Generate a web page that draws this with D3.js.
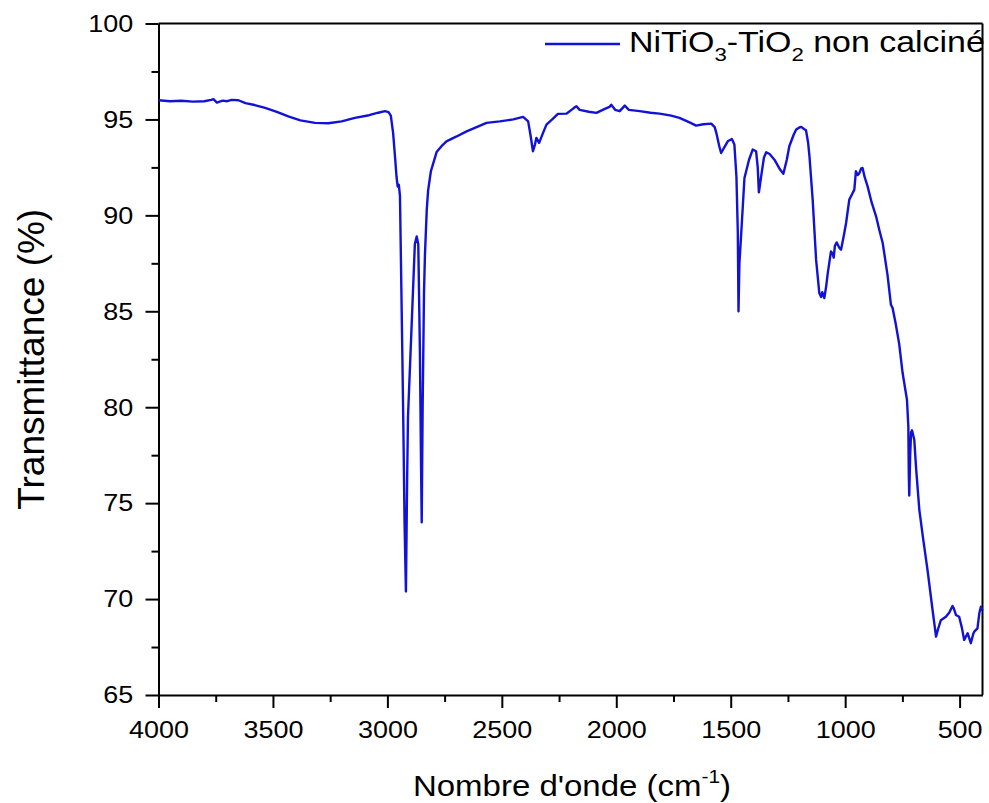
<!DOCTYPE html>
<html>
<head>
<meta charset="utf-8">
<script src="https://cdn.jsdelivr.net/npm/d3@7"></script>
<style>
  html, body { margin: 0; padding: 0; background: #fff; }
  svg { display: block; font-family: "Liberation Sans", Arial, sans-serif; }
</style>
</head>
<body>
<svg id="chart" width="989" height="803"></svg>
<script>
// FTIR spectrum
const wavenumbers = [
  4000, 3950, 3900, 3850, 3800, 3770, 3760, 3745, 3720, 3700, 3680, 3651, 3620, 3580, 3534,
  3480, 3433, 3380, 3316, 3258, 3200, 3142, 3080, 3040, 3011, 2995, 2985, 2975, 2967, 2960,
  2955, 2950, 2945, 2935, 2931, 2925, 2919, 2914, 2910, 2895, 2880, 2872, 2865, 2858, 2853,
  2850, 2846, 2840, 2836, 2828, 2822, 2810, 2800, 2785, 2760, 2742, 2700, 2654, 2600, 2567,
  2509, 2450, 2407, 2385, 2375, 2364, 2355, 2349, 2337, 2320, 2305, 2280, 2255, 2218, 2190,
  2180, 2174, 2160, 2120, 2087, 2050, 2030, 2022, 2005, 1985, 1963, 1945, 1898, 1850, 1811,
  1760, 1724, 1680, 1651, 1620, 1585, 1570, 1563, 1550, 1542, 1530, 1513, 1495, 1484, 1475,
  1469, 1466, 1462, 1454, 1440, 1420, 1404, 1389, 1382, 1377, 1372, 1367, 1355, 1345, 1330,
  1309, 1285, 1270, 1255, 1244, 1225, 1214, 1200, 1192, 1180, 1171, 1162, 1156, 1142, 1127,
  1113, 1105, 1100, 1091, 1083, 1076, 1062, 1055, 1050, 1045, 1037, 1025, 1018, 1005, 996,
  982, 970, 960, 953, 945, 938, 930, 924, 915, 902, 885, 865, 850, 836, 815,
  800, 793, 780, 764, 749, 730, 724, 722, 720, 716, 712, 708, 698, 690, 676,
  660, 640, 620, 603, 595, 582, 560, 545, 531, 525, 516, 502, 490, 480, 465,
  451, 440, 436, 422, 414, 407, 400
];
const transmittance = [
  96.0, 95.95, 95.97, 95.93, 95.95, 96.02, 96.06, 95.88, 95.98, 95.95, 96.02, 96.0, 95.85, 95.75, 95.6,
  95.38, 95.16, 94.95, 94.82, 94.8, 94.9, 95.08, 95.22, 95.35, 95.43, 95.38, 95.2, 94.3, 93.1, 92.0,
  91.5, 91.6, 91.0, 83.0, 79.7, 74.0, 70.4, 76.0, 79.5, 84.0, 88.5, 88.9, 88.5, 83.0, 77.0,
  74.0, 80.0, 86.0, 87.9, 90.3, 91.3, 92.3, 92.7, 93.3, 93.65, 93.86, 94.1, 94.38, 94.65, 94.82,
  94.9, 95.0, 95.13, 94.9, 94.2, 93.34, 93.7, 94.04, 93.78, 94.3, 94.73, 95.0, 95.29, 95.3, 95.55,
  95.65, 95.69, 95.5, 95.4, 95.34, 95.55, 95.65, 95.77, 95.5, 95.43, 95.72, 95.5, 95.43, 95.35, 95.3,
  95.2, 95.08, 94.85, 94.68, 94.75, 94.78, 94.6, 94.3, 93.6, 93.25, 93.5, 93.86, 93.98, 93.69, 92.0,
  89.08, 85.0, 87.5, 89.08, 91.95, 92.9, 93.43, 93.34, 92.5, 91.2, 91.6, 92.03, 93.0, 93.29, 93.2,
  92.9, 92.4, 92.17, 92.9, 93.6, 94.2, 94.47, 94.58, 94.61, 94.5, 94.43, 93.8, 93.08, 90.82, 87.69,
  85.95, 85.75, 86.0, 85.69, 86.3, 86.99, 88.12, 88.0, 87.8, 88.4, 88.59, 88.3, 88.21, 89.0, 89.6,
  90.82, 91.1, 91.34, 92.3, 92.1, 92.2, 92.45, 92.47, 92.0, 91.51, 90.7, 89.95, 89.2, 88.56, 86.9,
  85.34, 85.18, 84.4, 83.3, 81.78, 80.39, 79.0, 76.5, 75.4, 77.5, 78.7, 78.8, 78.3, 76.8, 74.65,
  73.2, 71.5, 69.6, 68.04, 68.4, 68.9, 69.08, 69.3, 69.64, 69.5, 69.17, 69.08, 68.5, 67.87, 68.22,
  67.7, 68.2, 68.3, 68.47, 69.26, 69.6, 69.4
];

const xTicks = [4000, 3500, 3000, 2500, 2000, 1500, 1000, 500];
const xMinorTicks = [3750, 3250, 2750, 2250, 1750, 1250, 750];
const yTicks = [65, 70, 75, 80, 85, 90, 95, 100];
const yMinorTicks = [67.5, 72.5, 77.5, 82.5, 87.5, 92.5, 97.5];

const seriesName = 'non calciné';
const lineColor = '#1212d6';
const stretch = 1.1; // glyphs in the reference are a bit wider than tall

const margin = {left: 158.5, right: 6.5, top: 23.5, bottom: 108};
const W = 989, H = 803;
const width = W - margin.left - margin.right;
const height = H - margin.top - margin.bottom;

const svg = d3.select('#chart');
const g = svg.append('g')
  .attr('transform', `translate(${margin.left},${margin.top})`);

const x = d3.scaleLinear().domain([4000, 400]).range([0, width]);
const y = d3.scaleLinear().domain([65, 100]).range([height, 0]);

// minor ticks first, major axis on top
g.append('g')
  .attr('transform', `translate(0,${height})`)
  .call(d3.axisBottom(x).tickValues(xMinorTicks).tickSize(7).tickFormat(''))
  .call(a => a.select('.domain').remove());
g.append('g')
  .call(d3.axisLeft(y).tickValues(yMinorTicks).tickSize(7).tickFormat(''))
  .call(a => a.select('.domain').remove());

g.append('g')
  .attr('class', 'x axis')
  .attr('transform', `translate(0,${height})`)
  .call(d3.axisBottom(x).tickValues(xTicks).tickFormat(d3.format('d'))
    .tickSize(13).tickSizeOuter(0).tickPadding(13));

g.append('g')
  .attr('class', 'y axis')
  .call(d3.axisLeft(y).tickValues(yTicks).tickFormat(d3.format('d'))
    .tickSize(13).tickSizeOuter(0).tickPadding(10));

svg.selectAll('.tick line').attr('stroke', '#000').attr('stroke-width', 2);
svg.selectAll('.tick text')
  .attr('fill', '#000')
  .style('font-size', '24.5px')
  .style('font-family', '"Liberation Sans", Arial, sans-serif')
  .attr('transform', `scale(${stretch},1)`);
svg.selectAll('.domain').attr('stroke', '#000').attr('stroke-width', 2);

// top and right edges of the frame
g.append('line')
  .attr('x1', 0).attr('x2', width).attr('y1', 0).attr('y2', 0)
  .attr('stroke', '#000').attr('stroke-width', 2);
g.append('line')
  .attr('x1', width).attr('x2', width).attr('y1', 0).attr('y2', height)
  .attr('stroke', '#000').attr('stroke-width', 2);

// spectrum
const points = wavenumbers.map((w, i) => [w, transmittance[i]]);
const line = d3.line()
  .x(d => x(d[0]))
  .y(d => y(d[1]));

g.append('path')
  .datum(points)
  .attr('fill', 'none')
  .attr('stroke', lineColor)
  .attr('stroke-width', 2.4)
  .attr('stroke-linejoin', 'round')
  .attr('d', line);

// legend
svg.append('line')
  .attr('x1', 545).attr('x2', 620).attr('y1', 44).attr('y2', 44)
  .attr('stroke', lineColor).attr('stroke-width', 2.4);

const legendText = svg.append('text')
  .attr('transform', 'translate(629,52) scale(1.17,1)')
  .style('font-size', '29px')
  .attr('fill', '#000');
legendText.append('tspan').text('NiTiO');
legendText.append('tspan').attr('dy', 9).style('font-size', '19px').text('3');
legendText.append('tspan').attr('dy', -9).text('-TiO');
legendText.append('tspan').attr('dy', 9).style('font-size', '19px').text('2');
legendText.append('tspan').attr('dy', -9).text(' ' + seriesName);

// axis titles
const xTitle = svg.append('text')
  .attr('transform', `translate(572,796) scale(${stretch},1)`)
  .attr('text-anchor', 'middle')
  .style('font-size', '30px')
  .attr('fill', '#000');
xTitle.append('tspan').text("Nombre d'onde (cm");
xTitle.append('tspan').attr('dy', -13).style('font-size', '19px').text('-1');
xTitle.append('tspan').attr('dy', 13).text(')');

svg.append('text')
  .attr('transform', `translate(44,${margin.top + height / 2}) rotate(-90)`)
  .attr('text-anchor', 'middle')
  .style('font-size', '37px')
  .attr('fill', '#000')
  .text('Transmittance (%)');
</script>
</body>
</html>
